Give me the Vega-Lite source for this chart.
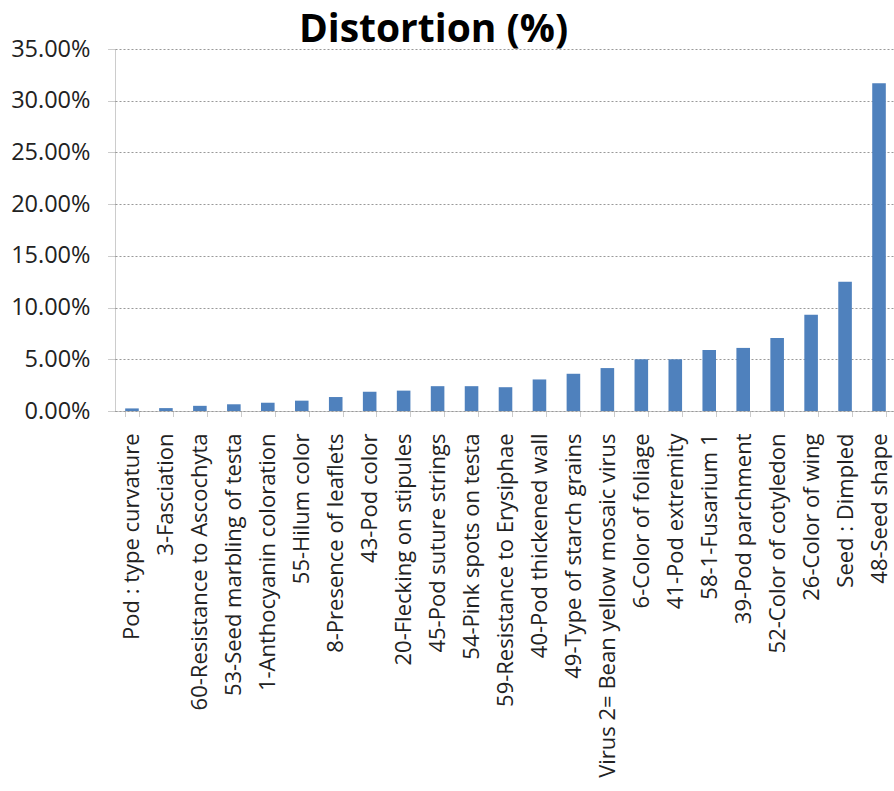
{
  "$schema": "https://vega.github.io/schema/vega-lite/v6.json",
  "autosize": "none",
  "padding": {"left": 115, "top": 49, "right": 0, "bottom": 380},
  "width": 781,
  "height": 362,
  "background": "white",
  "title": {
    "text": "Distortion (%)",
    "font": "Open Sans",
    "fontSize": 39,
    "fontWeight": "bold",
    "color": "#000000",
    "anchor": "middle",
    "dx": -72,
    "offset": -13
  },
  "data": {
    "values": [
      {"trait": "Pod : type curvature", "distortion": 0.0025},
      {"trait": "3-Fasciation", "distortion": 0.0028},
      {"trait": "60-Resistance to Ascochyta", "distortion": 0.005},
      {"trait": "53-Seed marbling of testa", "distortion": 0.0065},
      {"trait": "1-Anthocyanin coloration", "distortion": 0.008},
      {"trait": "55-Hilum color", "distortion": 0.01},
      {"trait": "8-Presence of leaflets", "distortion": 0.0135},
      {"trait": "43-Pod color", "distortion": 0.0185},
      {"trait": "20-Flecking on stipules", "distortion": 0.0197},
      {"trait": "45-Pod suture strings", "distortion": 0.024},
      {"trait": "54-Pink spots on testa", "distortion": 0.024},
      {"trait": "59-Resistance to Erysiphae", "distortion": 0.023},
      {"trait": "40-Pod thickened wall", "distortion": 0.0305},
      {"trait": "49-Type of starch grains", "distortion": 0.036},
      {"trait": "Virus 2= Bean yellow mosaic virus", "distortion": 0.0415},
      {"trait": "6-Color of foliage", "distortion": 0.05},
      {"trait": "41-Pod extremity", "distortion": 0.05},
      {"trait": "58-1-Fusarium 1", "distortion": 0.059},
      {"trait": "39-Pod parchment", "distortion": 0.061},
      {"trait": "52-Color of cotyledon", "distortion": 0.0705},
      {"trait": "26-Color of wing", "distortion": 0.093},
      {"trait": "Seed : Dimpled", "distortion": 0.125},
      {"trait": "48-Seed shape", "distortion": 0.317}
    ]
  },
  "mark": {"type": "bar", "color": "#4F81BD"},
  "encoding": {
    "x": {
      "field": "trait",
      "type": "nominal",
      "sort": null,
      "title": null,
      "scale": {"paddingInner": 0.6, "paddingOuter": 0.3},
      "axis": {
        "labelAngle": -90,
        "labelAlign": "right",
        "labelBaseline": "middle",
        "labelFont": "Open Sans",
        "labelFontSize": 22,
        "labelColor": "#222222",
        "labelPadding": 16,
        "labelLimit": 400,
        "tickBand": "extent",
        "tickSize": 6,
        "tickColor": "#999999",
        "tickDash": [1, 1],
        "domainColor": "#999999",
        "domainDash": [1, 1],
        "grid": false
      }
    },
    "y": {
      "field": "distortion",
      "type": "quantitative",
      "title": null,
      "scale": {"domain": [0, 0.35], "nice": false},
      "axis": {
        "values": [0, 0.05, 0.1, 0.15, 0.2, 0.25, 0.3, 0.35],
        "format": ".2%",
        "labelFont": "Open Sans",
        "labelFontSize": 23.5,
        "labelColor": "#222222",
        "labelPadding": 17,
        "tickSize": 8,
        "tickColor": "#999999",
        "tickDash": [1, 1],
        "domainColor": "#999999",
        "domainDash": [1, 1],
        "gridColor": "#999999",
        "gridDash": [2, 2],
        "gridWidth": 1
      }
    }
  },
  "config": {"view": {"stroke": null}}
}
